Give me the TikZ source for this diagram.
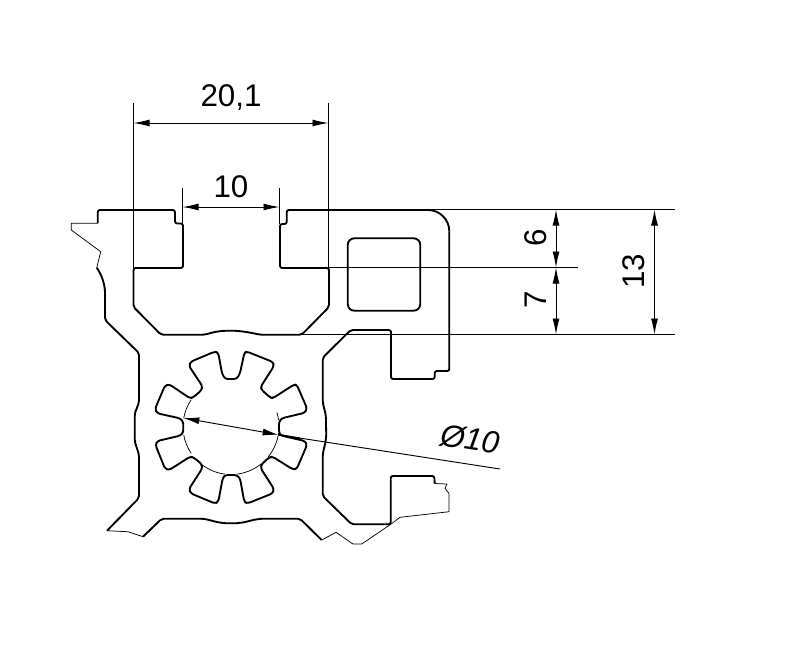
\documentclass[tikz,border=0pt]{standalone}
\usepackage{fontspec}
\setmainfont{Liberation Sans}
\usetikzlibrary{arrows.meta,calc}
\tikzset{
  body/.style={line width=1.4pt,line join=round,rounded corners=1.6pt},
  sharp/.style={line width=1.4pt,line join=round},
  thinedge/.style={line width=0.55pt,line join=round},
  extline/.style={line width=0.7pt},
  dimline/.style={line width=0.7pt,{Latex[length=12pt,width=5.2pt]}-{Latex[length=12pt,width=5.2pt]}},
  dimtext/.style={inner sep=0pt,font=\fontsize{23.5}{24}\selectfont}
}
\begin{document}
\begin{tikzpicture}[x=0.75pt,y=-0.75pt]
\useasboundingbox (0,0) rectangle (787,651);
\fill[white] (0,0) rectangle (787,651);
% coordinates
\coordinate (tlA) at (71.3,223.3);
\coordinate (tlB) at (97.7,223.3);
\coordinate (tlC) at (71.3,230);
\coordinate (tlD) at (100.7,251.7);
\coordinate (tlE) at (96.7,267.7);
\coordinate (btA) at (107,530.7);
\coordinate (btB) at (143,536.7);
\coordinate (brA) at (321.7,540);
\coordinate (brB) at (390.7,524.3);
\coordinate (brC) at (434.7,483.5);
% thin break edges
\draw[thinedge] (tlB) -- (tlA) -- (tlC) -- (tlD) -- (tlE);
\draw[thinedge] (btA) -- (128,531.7) -- (btB);
\draw[thinedge] (brA) -- (336,532.3) -- (353,544) -- (361.7,544) -- (brB) -- (400,517.3) -- (449,511.7) -- (449,493.3) -- (445,488.3) -- (447,484) -- (brC);
% main profile
\draw[body] (tlB) -- (97.7,210) -- (175,210) -- (175,223.5) -- (183,223.5) -- (183,268) -- (133.5,268) -- (133.5,307) -- (161,334.7) -- (205,334.7)
  .. controls (215,331.5) and (222,330.7) .. (230,330.7) .. controls (240,330.7) and (250,332.5) .. (260,334.7)
  -- (301.7,334.7) -- (329,307) -- (329,268) -- (280,268) -- (280,224) -- (286.7,224) -- (286.7,210) -- (428,210);
\draw[sharp] (428,210) arc[start angle=-90,end angle=0,radius=21.3];
\draw[body] (449.3,231.3) -- (449.3,371) -- (434.7,371) -- (434.7,379) -- (391,379) -- (391,330) -- (350.7,330) -- (322.7,357.7) -- (322.7,398)
  .. controls (322.7,406) and (326,412) .. (326,421) .. controls (326,430) and (326.5,434) .. (325.7,440)
  .. controls (325,446) and (322.7,451) .. (322.7,459) -- (322.7,496) -- (351.7,524.3) -- (390.7,524.3) -- (390.7,476) -- (434.3,476) -- (434.7,483.5);
\draw[body] (brA) -- (300,518.7) -- (261.7,518.7) .. controls (252,519.5) and (245,523.3) .. (231,523.3) .. controls (217,523.3) and (210,519.5) .. (201.7,518.7)
  -- (161.7,518.7) -- (btB);
\draw[body] (btA) -- (139,498) -- (139,459) .. controls (139,451) and (134.7,445) .. (134.7,437) -- (134.7,418) .. controls (134.7,410) and (139,406) .. (139,398)
  -- (139,353) -- (105,320) -- (105,295) .. controls (105,285) and (102,275) .. (tlE);
% hollow window
\draw[line width=1.4pt,rounded corners=5pt] (347.7,238.3) rectangle (420.3,310.7);
% star-shaped bore
\draw[line width=1.4pt,line join=round,rounded corners=2pt]
  (225,379) -- (236.7,379) -- (240,373.3) -- (244.3,353) -- (246.7,351.5) -- (273,362) -- (274,366) -- (260.7,386.7) -- (261.7,390) -- (270,397.3) -- (272.7,398.3) -- (293.3,385) -- (296.7,384.5) -- (307,408.3) -- (305,412.7) -- (281.7,418.3) -- (279,421.7) -- (279,433.3) -- (281.7,435.7) -- (305,441) -- (307,445) -- (296.7,469) -- (292.7,469.3) -- (272.7,456.7) -- (269.3,457.3) -- (261.7,464) -- (260.7,468.3) -- (274,489) -- (272.7,493.3) -- (247.3,503.5) -- (244.3,501.7) -- (240,478.3) -- (236.7,475) -- (225,475) -- (222.7,478.3) -- (218.3,501.7) -- (215,503.5) -- (190.7,493.3) -- (189,489) -- (202.3,468.3) -- (201.7,464) -- (193.3,457.3) -- (190,456.7) -- (169.3,470) -- (165,468.7) -- (155.5,445) -- (157.3,441) -- (180,435.7) -- (183.3,432.7) -- (183.3,421.7) -- (180,418.3) -- (157.3,413.3) -- (155,409) -- (165,385.5) -- (169.3,384.3) -- (190,398.3) -- (193.3,397.3) -- (201.7,390) -- (202.3,386) -- (189,366) -- (190.7,361.7) -- (215,351.5) -- (218.3,353) -- (222,373.3) -- cycle;
% thin circle arcs
\coordinate (cc) at (231,426.5);
\foreach \a/\b in {214/190,170/146,128/97,83/51,39/8,-8/-17}
  \draw[thinedge] ($(cc)+(\a:48)$) arc[start angle=\a,end angle=\b,radius=48];
% extension lines
\coordinate (e1t) at (133.5,103); \coordinate (e1b) at (133.5,268);
\coordinate (e2t) at (328.5,103); \coordinate (e2b) at (328.5,268);
\coordinate (e3t) at (182.5,188); \coordinate (e3b) at (182.5,224);
\coordinate (e4t) at (279.5,188); \coordinate (e4b) at (279.5,224);
\draw[extline] (e1t) -- (e1b);
\draw[extline] (e2t) -- (e2b);
\draw[extline] (e3t) -- (e3b);
\draw[extline] (e4t) -- (e4b);
\coordinate (r1a) at (428,209.5);   \coordinate (r1b) at (675,209.5);
\coordinate (r2a) at (329,267.5);   \coordinate (r2b) at (578,267.5);
\coordinate (r3a) at (301.7,334.5); \coordinate (r3b) at (675,334.5);
\draw[extline] (r1a) -- (r1b);
\draw[extline] (r2a) -- (r2b);
\draw[extline] (r3a) -- (r3b);
% dimension lines
\coordinate (d1a) at (133.5,123); \coordinate (d1b) at (328.5,123);
\coordinate (d2a) at (182.5,207); \coordinate (d2b) at (279.5,207);
\coordinate (d3a) at (556,209.5); \coordinate (d3b) at (556,267.5);
\coordinate (d4a) at (556,267.5); \coordinate (d4b) at (556,334.5);
\coordinate (d5a) at (654.5,209.5); \coordinate (d5b) at (654.5,334.5);
\coordinate (d6a) at (183.3,418); \coordinate (d6b) at (278.7,434.8);
\coordinate (d6c) at (500,469);
\draw[dimline] (d1a) -- (d1b);
\draw[dimline] (d2a) -- (d2b);
\draw[dimline] (d3a) -- (d3b);
\draw[dimline] (d4a) -- (d4b);
\draw[dimline] (d5a) -- (d5b);
\draw[dimline] (d6a) -- (d6b);
\draw[extline] (d6b) -- (d6c);
\draw[line width=1.4pt] (d6b) -- (300,438.5);
% labels
\node[dimtext] (t1) at (231,98) {20,1};
\node[dimtext] (t2) at (231,187) {10};
\node[dimtext,rotate=90] (t3) at (536,238) {6};
\node[dimtext,rotate=90] (t4) at (536,300) {7};
\node[dimtext,rotate=90] (t5) at (634,271) {13};
\node[dimtext,rotate=-9] (t6) at (470,439) {\textit{Ø10}};
\end{tikzpicture}
\end{document}
